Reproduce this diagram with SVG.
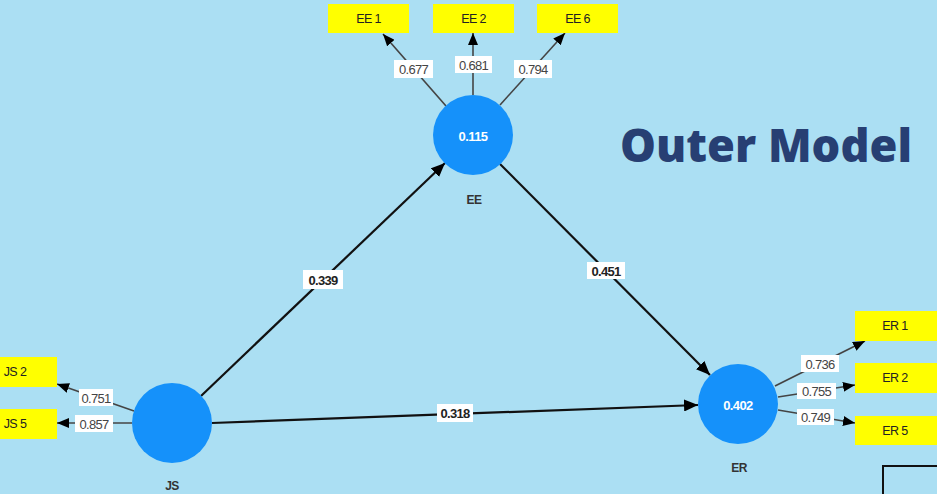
<svg xmlns="http://www.w3.org/2000/svg" width="937" height="494" viewBox="0 0 937 494">
<defs>
<style>
.ind{fill:#FFFF00}
.indt{font-family:"Liberation Sans",Arial,sans-serif;font-size:12.5px;fill:#222;text-anchor:middle;dominant-baseline:central;letter-spacing:-0.6px}
.lv{fill:#1591FA}
.lvt{font-family:"Liberation Sans",Arial,sans-serif;font-size:13px;font-weight:bold;fill:#fff;text-anchor:middle;dominant-baseline:central;letter-spacing:-0.6px}
.lvn{font-family:"Liberation Sans",Arial,sans-serif;font-size:12px;font-weight:bold;fill:#333;text-anchor:middle;dominant-baseline:central;letter-spacing:-0.6px}
.ol{stroke:#444;stroke-width:1.6;fill:none}
.sl{stroke:#111;stroke-width:2.2;fill:none}
.lb{fill:#fff}
.lt{font-family:"Liberation Sans",Arial,sans-serif;font-size:13px;fill:#444;text-anchor:middle;dominant-baseline:central;letter-spacing:-0.7px}
.st{font-family:"Liberation Sans",Arial,sans-serif;font-size:13px;font-weight:bold;fill:#222;text-anchor:middle;dominant-baseline:central;letter-spacing:-0.7px}
</style>
<marker id="ah" viewBox="0 0 12 10" refX="12" refY="5" markerWidth="12" markerHeight="10" markerUnits="userSpaceOnUse" orient="auto">
<path d="M0,0 L12,5 L0,10 z" fill="#000"/>
</marker>
<marker id="ahs" viewBox="0 0 14 12" refX="14" refY="6" markerWidth="14" markerHeight="12" markerUnits="userSpaceOnUse" orient="auto">
<path d="M0,0 L14,6 L0,12 z" fill="#000"/>
</marker>
</defs>
<rect x="0" y="0" width="937" height="494" fill="#ABDFF3"/>

<g id="connectors">
<line class="ol" x1="446" y1="106" x2="383" y2="34" marker-end="url(#ah)"/>
<line class="ol" x1="473" y1="95" x2="473" y2="33" marker-end="url(#ah)"/>
<line class="ol" x1="500" y1="105" x2="565" y2="33" marker-end="url(#ah)"/>
<line class="ol" x1="134" y1="411" x2="57" y2="384" marker-end="url(#ah)"/>
<line class="ol" x1="132" y1="423" x2="57" y2="423" marker-end="url(#ah)"/>
<line class="ol" x1="775" y1="386" x2="865" y2="341" marker-end="url(#ah)"/>
<line class="ol" x1="778" y1="397" x2="855" y2="385" marker-end="url(#ah)"/>
<line class="ol" x1="778" y1="410" x2="855" y2="423" marker-end="url(#ah)"/>
<line class="sl" x1="201" y1="396" x2="445" y2="163" marker-end="url(#ahs)"/>
<line class="sl" x1="500" y1="164" x2="710" y2="375" marker-end="url(#ahs)"/>
<line class="sl" x1="212" y1="423" x2="698" y2="405" marker-end="url(#ahs)"/>

<rect class="lb" x="394" y="60" width="39" height="18"/><text class="lt" x="413.5" y="69.5">0.677</text>
<rect class="lb" x="455" y="56" width="37" height="17"/><text class="lt" x="473.5" y="65">0.681</text>
<rect class="lb" x="514" y="60" width="38" height="18"/><text class="lt" x="533" y="69.5">0.794</text>
<rect class="lb" x="79" y="389" width="34" height="17"/><text class="lt" x="96" y="398">0.751</text>
<rect class="lb" x="75" y="415" width="38" height="17"/><text class="lt" x="94" y="424">0.857</text>
<rect class="lb" x="801" y="355" width="38" height="17"/><text class="lt" x="820" y="364">0.736</text>
<rect class="lb" x="797" y="383" width="39" height="16"/><text class="lt" x="816.5" y="391.5">0.755</text>
<rect class="lb" x="797" y="409" width="37" height="16"/><text class="lt" x="815.5" y="417.5">0.749</text>
<rect class="lb" x="303" y="270" width="40" height="19"/><text class="st" x="323" y="280">0.339</text>
<rect class="lb" x="587" y="262" width="38" height="17"/><text class="st" x="606" y="271">0.451</text>
<rect class="lb" x="437" y="404" width="36" height="18"/><text class="st" x="455" y="413.5">0.318</text>
</g>

<g id="EE1"><rect class="ind" x="328" y="4" width="81" height="29"/><text class="indt" x="368.5" y="19">EE 1</text></g>
<g id="EE2"><rect class="ind" x="433" y="4" width="81" height="29"/><text class="indt" x="473.5" y="19">EE 2</text></g>
<g id="EE6"><rect class="ind" x="537" y="4" width="81" height="29"/><text class="indt" x="577.5" y="19">EE 6</text></g>
<g id="JS2"><rect class="ind" x="0" y="357" width="57" height="30"/><text class="indt" x="15" y="372">JS 2</text></g>
<g id="JS5"><rect class="ind" x="0" y="409" width="57" height="30"/><text class="indt" x="15" y="424">JS 5</text></g>
<g id="ER1"><rect class="ind" x="855" y="311" width="82" height="30"/><text class="indt" x="895" y="326">ER 1</text></g>
<g id="ER2"><rect class="ind" x="855" y="363" width="82" height="30"/><text class="indt" x="895" y="378">ER 2</text></g>
<g id="ER5"><rect class="ind" x="855" y="416" width="82" height="29"/><text class="indt" x="895" y="431">ER 5</text></g>

<g id="EE"><circle class="lv" cx="473" cy="135" r="40"/><text class="lvt" x="473" y="136">0.115</text><text class="lvn" x="474" y="200">EE</text></g>
<g id="JS"><circle class="lv" cx="172" cy="423" r="40"/><text class="lvn" x="172" y="486">JS</text></g>
<g id="ER"><circle class="lv" cx="738" cy="404" r="40"/><text class="lvt" x="738" y="405">0.402</text><text class="lvn" x="739" y="468">ER</text></g>

<text x="620" y="162" font-family="'Open Sans',sans-serif" font-weight="800" font-size="46" fill="#273F73" textLength="292" lengthAdjust="spacingAndGlyphs">Outer Model</text>
<rect x="883" y="466" width="70" height="40" fill="none" stroke="#111" stroke-width="2"/>
</svg>
